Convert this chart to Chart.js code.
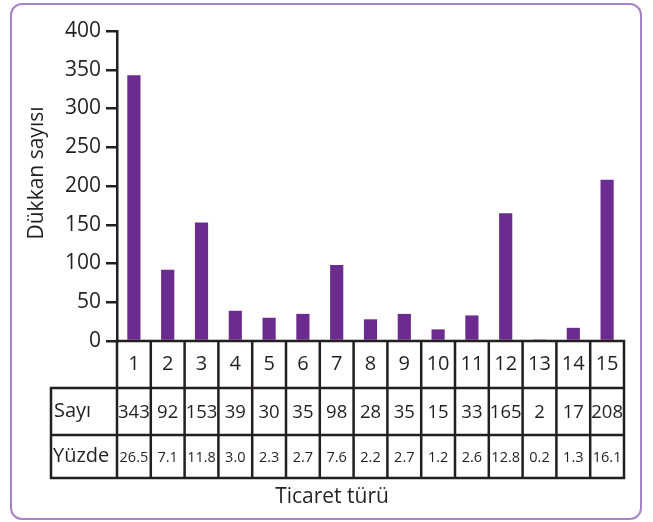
<!DOCTYPE html>
<html>
<head>
<meta charset="utf-8">
<script src="https://cdn.jsdelivr.net/npm/chart.js@4"></script>
<style>
  html, body { margin: 0; padding: 0; background: #ffffff; }
  #wrap { width: 653px; height: 522px; position: relative; }
</style>
</head>
<body>
<div id="wrap"><canvas id="chart" width="653" height="522"></canvas></div>
<script>
// Ticaret türü (kategori numaraları)
const categories = ['1','2','3','4','5','6','7','8','9','10','11','12','13','14','15'];
// Dükkan sayısı
const counts = [343, 92, 153, 39, 30, 35, 98, 28, 35, 15, 33, 165, 2, 17, 208];
// Yüzde değerleri
const percents = ['26.5','7.1','11.8','3.0','2.3','2.7','7.6','2.2','2.7','1.2','2.6','12.8','0.2','1.3','16.1'];
// Satır başlıkları ve eksen başlıkları
const rowLabels = ['Sayı', 'Yüzde'];
const yTitle = 'Dükkan sayısı';
const xTitle = 'Ticaret türü';
const yTicks = [0, 50, 100, 150, 200, 250, 300, 350, 400];

const INK = '#231f20';
const BAR = '#6c2b8e';
const FRAME = '#a783c6';
const FONT = '"Open Sans", "Noto Sans", sans-serif';

// Çerçeve, tablo ve başlıklar
const tablePlugin = {
  id: 'tablePlugin',
  beforeDraw(chart) {
    const ctx = chart.ctx;
    ctx.save();
    ctx.fillStyle = '#ffffff';
    ctx.fillRect(0, 0, chart.width, chart.height);
    ctx.strokeStyle = FRAME;
    ctx.lineWidth = 2;
    ctx.beginPath();
    ctx.roundRect(11, 4, 630, 515, 11);
    ctx.stroke();
    ctx.restore();
  },
  afterDraw(chart) {
    const ctx = chart.ctx;
    const area = chart.chartArea;
    const n = categories.length;
    const colW = (area.right - area.left) / n;
    const labelLeft = 51;
    const r0 = area.bottom, r1 = 388, r2 = 435, r3 = 478;

    ctx.save();
    ctx.strokeStyle = INK;
    ctx.lineWidth = 2.5;
    ctx.lineCap = 'square';
    ctx.beginPath();
    // yatay çizgiler
    ctx.moveTo(area.left, r0); ctx.lineTo(area.right, r0);
    ctx.moveTo(labelLeft, r1); ctx.lineTo(area.right, r1);
    ctx.moveTo(labelLeft, r2); ctx.lineTo(area.right, r2);
    ctx.moveTo(labelLeft, r3); ctx.lineTo(area.right, r3);
    // dikey çizgiler
    ctx.moveTo(labelLeft, r1); ctx.lineTo(labelLeft, r3);
    for (let i = 0; i <= n; i++) {
      const x = area.left + i * colW;
      ctx.moveTo(x, r0); ctx.lineTo(x, r3);
    }
    ctx.stroke();

    ctx.fillStyle = INK;
    ctx.textBaseline = 'middle';
    ctx.textAlign = 'center';
    const xs = chart.scales.x;
    categories.forEach((c, i) => {
      const cx = xs.getPixelForValue(i);
      ctx.font = '20px ' + FONT;
      ctx.fillText(c, cx, (r0 + r1) / 2);
      ctx.font = '18.5px ' + FONT;
      ctx.fillText(String(counts[i]), cx, (r1 + r2) / 2 + 1);
      ctx.font = '14.5px ' + FONT;
      ctx.fillText(percents[i], cx, (r2 + r3) / 2 + 1);
    });

    ctx.textAlign = 'left';
    ctx.font = '20px ' + FONT;
    ctx.fillText(rowLabels[0], 54, (r1 + r2) / 2);
    ctx.fillText(rowLabels[1], 53, (r2 + r3) / 2);

    // eksen başlıkları
    ctx.textAlign = 'center';
    ctx.font = '21px ' + FONT;
    ctx.fillText(xTitle, 332, 497);
    ctx.translate(37, 173);
    ctx.rotate(-Math.PI / 2);
    ctx.fillText(yTitle, 0, 0);
    ctx.restore();
  }
};

new Chart(document.getElementById('chart'), {
  type: 'bar',
  data: {
    labels: categories,
    datasets: [{
      data: counts,
      backgroundColor: BAR,
      borderWidth: 0,
      categoryPercentage: 1,
      barPercentage: 0.39
    }]
  },
  options: {
    responsive: false,
    animation: false,
    events: [],
    layout: { padding: { left: 0, top: 31, right: 29, bottom: 181 } },
    plugins: { legend: { display: false }, tooltip: { enabled: false }, title: { display: false } },
    scales: {
      x: {
        type: 'category',
        display: false,
        offset: true
      },
      y: {
        min: 0,
        max: 400,
        afterFit(scale) { scale.width = 117; },
        afterBuildTicks(scale) { scale.ticks = yTicks.map(v => ({ value: v })); },
        ticks: {
          stepSize: 50,
          color: INK,
          padding: 5,
          font: { family: FONT, size: 21 }
        },
        grid: {
          drawOnChartArea: false,
          drawTicks: true,
          tickLength: 11,
          lineWidth: 2.5,
          color: INK
        },
        border: { display: true, color: INK, width: 2.5 }
      }
    }
  },
  plugins: [tablePlugin]
});
</script>
</body>
</html>
